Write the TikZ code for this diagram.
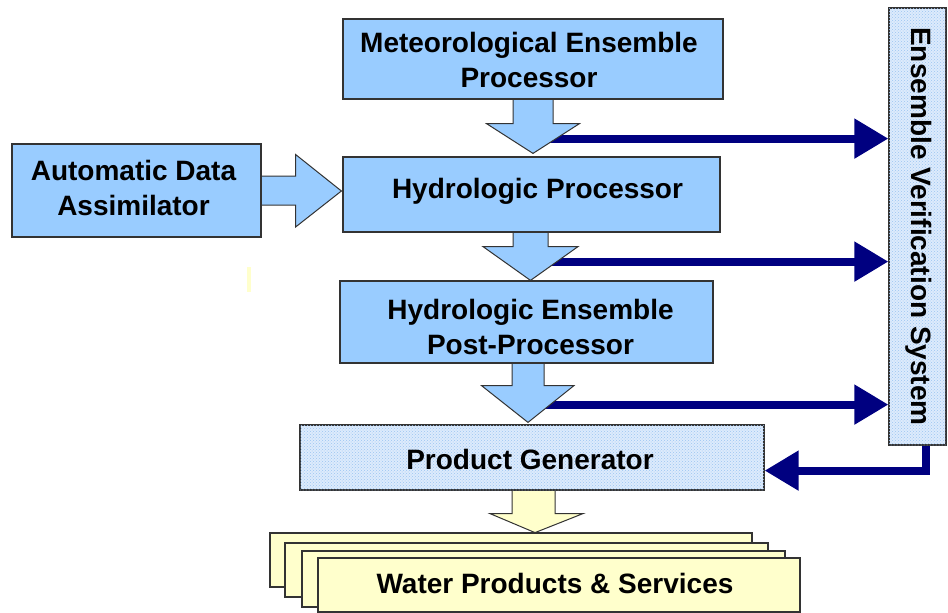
\documentclass[tikz,border=0pt]{standalone}
\usepackage{fontspec}
\setmainfont{Liberation Sans}
\usetikzlibrary{calc,patterns,arrows.meta}
\definecolor{boxblue}{HTML}{99CCFF}
\definecolor{navyc}{HTML}{000080}
\definecolor{paperc}{HTML}{FFFFCC}
\definecolor{edgec}{HTML}{333333}
\definecolor{dotbase}{HTML}{DDEBFC}
\definecolor{dotblue}{HTML}{9CC4F2}
\begin{document}
\begin{tikzpicture}[x=1pt,y=-1pt,
  box/.style={draw=edgec,line width=1.2pt,fill=boxblue,rectangle,inner sep=0pt,align=center,
    font=\fontsize{28}{35}\selectfont\bfseries},
  dotbox/.style={box,fill=dotbase,postaction={pattern=crosshatch dots,pattern color=dotblue}},
  paperbox/.style={box,fill=paperc},
  barrow/.style={draw=edgec,line width=1pt,fill=boxblue,line join=miter},
  yarrow/.style={barrow,fill=paperc},
  navyline/.style={draw=navyc,line width=8pt,line join=miter,
    -{Triangle[length=34pt,width=38pt]}},
  lbl/.style={inner sep=0pt,align=center,font=\fontsize{28}{35}\selectfont\bfseries}
]
\useasboundingbox (0,0) rectangle (948,613);

% boxes (geometry only, for anchors)
\path
  node[box,draw=none,fill=none,minimum width=380pt,minimum height=80pt] (met) at (533,59) {}
  node[box,draw=none,fill=none,minimum width=377pt,minimum height=75pt] (hyd) at (531.5,194.5) {}
  node[box,draw=none,fill=none,minimum width=249pt,minimum height=93pt] (ada) at (136.5,190.5) {}
  node[box,draw=none,fill=none,minimum width=373pt,minimum height=82pt] (post) at (526.5,322) {}
  node[box,draw=none,fill=none,minimum width=464pt,minimum height=65pt] (pg) at (532,457.5) {}
  node[box,draw=none,fill=none,minimum width=57pt,minimum height=437pt] (evs) at (917.5,226.5) {};

% named points for the navy lines
\coordinate (n1) at ($(met.south)+(0,39)$);
\coordinate (n2) at ($(hyd.south)+(0,29)$);
\coordinate (n3) at ($(post.south)+(0,41)$);
\coordinate (fb) at ($(evs.south)+(8.5,25)$);

% navy connectors
\draw[navyline] (n1) -- (n1 -| evs.west);
\draw[navyline] (n2) -- (n2 -| evs.west);
\draw[navyline] (n3) -- (n3 -| evs.west);
\draw[navyline] ($(evs.south)+(8.5,-2)$) |- (fb -| pg.east);

% block arrows
\draw[barrow] ($(met.south)+(-20,0)$) -- ++(0,24) -- ++(-26.5,0)
  -- ($(met.south |- hyd.north)+(0,-3)$) -- ($(met.south)+(46.5,24)$)
  -- ($(met.south)+(20,24)$) -- ($(met.south)+(20,0)$);
\draw[barrow] ($(hyd.south)+(-18.5,0)$) -- ++(0,14) -- ++(-30,0)
  -- ($(hyd.south |- post.north)+(-1,0)$) -- ($(hyd.south)+(46.5,14)$)
  -- ($(hyd.south)+(16.5,14)$) -- ($(hyd.south)+(16.5,0)$);
\draw[barrow] ($(post.south)+(-14.5,0)$) -- ++(0,22) -- ++(-30.5,0)
  -- ($(post.south |- pg.north)+(1.5,-2)$) -- ($(post.south)+(47.5,22)$)
  -- ($(post.south)+(17.5,22)$) -- ($(post.south)+(17.5,0)$);
\draw[barrow] ($(ada.east)+(0,-14.5)$) -- ++(34,0) -- ++(0,-21.5)
  -- ($(hyd.west)+(-1,-3.5)$) -- ($(ada.east)+(34,36.5)$)
  -- ($(ada.east)+(34,14.5)$) -- ($(ada.east)+(0,14.5)$);
\draw[yarrow] ($(pg.south)+(-20,0)$) -- ++(0,23) -- ++(-22,0)
  -- ($(pg.south)+(3,42)$) -- ($(pg.south)+(51,23)$)
  -- ($(pg.south)+(23,23)$) -- ($(pg.south)+(23,0)$);

% visible boxes
\node[box,minimum width=380pt,minimum height=80pt] (metb) at (met) {};
\node[lbl] (mett) at ($(met)+(-4,1)$) {Meteorological Ensemble\\Processor};
\node[box,minimum width=377pt,minimum height=75pt] (hydb) at (hyd) {};
\node[lbl] (hydt) at ($(hyd)+(6,-3)$) {Hydrologic Processor};
\node[box,minimum width=249pt,minimum height=93pt] (adab) at (ada) {};
\node[lbl] (adat) at ($(ada)+(-3,-3)$) {Automatic Data\\Assimilator};
\node[box,minimum width=373pt,minimum height=82pt] (postb) at (post) {};
\node[lbl] (postt) at ($(post)+(4,5)$) {Hydrologic Ensemble\\Post-Processor};
\node[dotbox,minimum width=464pt,minimum height=65pt] (pgb) at (pg) {};
\node[lbl] (pgt) at ($(pg)+(-2,2)$) {Product Generator};
\node[dotbox,minimum width=57pt,minimum height=437pt] (evsb) at (evs) {};
\node[lbl,rotate=-90] (evst) at ($(evs)+(1,0)$) {Ensemble Verification System};

% stacked products
\node[paperbox,minimum width=482pt,minimum height=54pt] (p1) at (511,560) {};
\node[paperbox,minimum width=483pt,minimum height=54pt] (p2) at (526.5,570) {};
\node[paperbox,minimum width=483pt,minimum height=56pt] (p3) at (543.5,579) {};
\node[paperbox,minimum width=482pt,minimum height=54pt] (p4) at (559,585) {};
\node[lbl] (p4t) at ($(p4)+(-4,-2)$) {Water Products \& Services};

% faint mark
\fill[paperc] (247,267) rectangle (251,292);
\end{tikzpicture}
\end{document}
